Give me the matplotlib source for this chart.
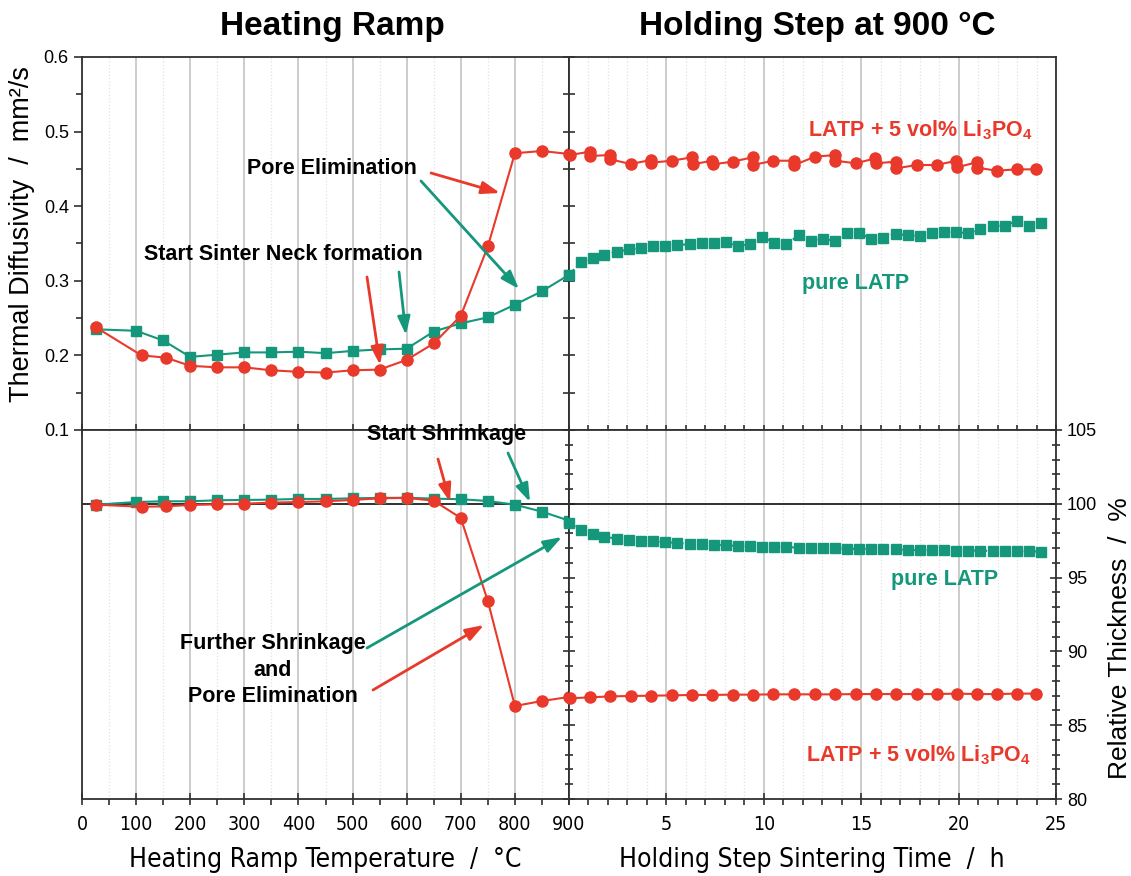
import numpy as np
import matplotlib.pyplot as plt
from matplotlib import font_manager as fm
from matplotlib.ticker import MultipleLocator, FixedLocator

plt.rcParams['font.family'] = ['Liberation Sans', 'DejaVu Sans']
plt.rcParams['mathtext.fontset'] = 'custom'
plt.rcParams['mathtext.rm'] = 'Liberation Sans:bold'
plt.rcParams['mathtext.it'] = 'Liberation Sans:bold'
plt.rcParams['mathtext.bf'] = 'Liberation Sans:bold'

RED = '#e8392b'
GREEN = '#14977a'

# narrow font for the x axis texts, if one is there
_names = {f.name for f in fm.fontManager.ttflist}
_cond = [f for f in fm.fontManager.ttflist if f.name == 'DejaVu Sans' and 'condensed' in str(f.stretch)]
if 'Liberation Sans Narrow' in _names:
    NARROW = dict(family='Liberation Sans Narrow')
    tick_fs, xlab_fs = 15, 21
elif _cond:
    NARROW = dict(family='DejaVu Sans', stretch='condensed')
    tick_fs, xlab_fs = 14, 19
else:
    NARROW = dict(family='Liberation Sans')
    tick_fs, xlab_fs = 13.5, 19

# heating ramp (deg C)
temp_red = [25, 110, 155, 200, 250, 300, 350, 400, 450, 500, 550, 600, 650, 700, 750, 800, 850, 900]
diff_red = [0.238, 0.200, 0.197, 0.186, 0.184, 0.184, 0.180, 0.178, 0.177, 0.180, 0.181, 0.194,
            0.216, 0.253, 0.346, 0.471, 0.474, 0.470]
thick_red = [99.94, 99.80, 99.83, 99.92, 99.96, 100.01, 100.08, 100.12, 100.17, 100.26, 100.37,
             100.40, 100.21, 99.04, 93.41, 86.30, 86.64, 86.91]

temp_green = [25, 100, 150, 200, 250, 300, 350, 400, 450, 500, 550, 600, 650, 700, 750, 800, 850, 900]
diff_green = [0.235, 0.233, 0.220, 0.198, 0.201, 0.204, 0.204, 0.205, 0.203, 0.206, 0.208, 0.209,
              0.232, 0.243, 0.251, 0.268, 0.286, 0.308]
thick_green = [99.94, 100.12, 100.17, 100.17, 100.24, 100.26, 100.28, 100.33, 100.33, 100.37, 100.40,
               100.41, 100.35, 100.31, 100.19, 99.94, 99.47, 98.86]

# holding step at 900 C (h)
hold_t_red_d = [0.05, 1.07, 1.09, 2.09, 2.11, 3.17, 4.20, 4.22, 5.27, 6.32, 6.34, 7.35, 7.37, 8.40,
                9.42, 9.44, 10.49, 11.54, 11.56, 12.63, 13.65, 13.67, 14.72, 15.73, 15.75, 16.78,
                16.80, 17.85, 18.87, 19.89, 19.91, 20.92, 20.94, 21.95, 22.98, 23.97]
hold_diff_red = [0.4686, 0.4731, 0.4673, 0.4686, 0.4628, 0.4566, 0.4619, 0.4583, 0.4610, 0.4655,
                 0.4561, 0.4610, 0.4561, 0.4597, 0.4655, 0.4552, 0.4610, 0.4610, 0.4552, 0.4664,
                 0.4686, 0.4610, 0.4575, 0.4642, 0.4575, 0.4597, 0.4508, 0.4552, 0.4552, 0.4610,
                 0.4521, 0.4588, 0.4517, 0.4476, 0.4494, 0.4494]

hold_t_red = [0.05, 1.08, 2.10, 3.17, 4.21, 5.27, 6.33, 7.36, 8.40, 9.43, 10.49, 11.55, 12.63,
              13.66, 14.72, 15.74, 16.79, 17.85, 18.87, 19.90, 20.93, 21.95, 22.98, 23.97]
hold_thick_red = [86.82, 86.89, 86.95, 86.98, 87.00, 87.02, 87.05, 87.05, 87.07, 87.07, 87.09,
                  87.09, 87.09, 87.09, 87.11, 87.11, 87.11, 87.11, 87.11, 87.14, 87.11, 87.11,
                  87.14, 87.14]

hold_t_green = [0.0, 0.60, 1.21, 1.81, 2.45, 3.08, 3.70, 4.33, 4.94, 5.56, 6.19, 6.83, 7.44, 8.04,
                8.69, 9.31, 9.92, 10.54, 11.16, 11.79, 12.41, 13.02, 13.64, 14.29, 14.90, 15.52,
                16.14, 16.77, 17.39, 18.00, 18.63, 19.27, 19.87, 20.48, 21.12, 21.75, 22.37,
                22.98, 23.60, 24.23]
hold_diff_green = [0.308, 0.325, 0.331, 0.335, 0.339, 0.342, 0.344, 0.346, 0.347, 0.348, 0.349,
                   0.351, 0.350, 0.352, 0.347, 0.349, 0.359, 0.351, 0.349, 0.361, 0.353, 0.356,
                   0.354, 0.364, 0.364, 0.356, 0.358, 0.363, 0.361, 0.360, 0.364, 0.366, 0.365,
                   0.364, 0.369, 0.373, 0.374, 0.380, 0.374, 0.378]
hold_thick_green = [98.72, 98.22, 97.95, 97.77, 97.64, 97.57, 97.48, 97.46, 97.41, 97.34, 97.30,
                    97.25, 97.23, 97.19, 97.14, 97.12, 97.09, 97.09, 97.07, 97.03, 97.03, 97.00,
                    96.98, 96.96, 96.94, 96.94, 96.92, 96.92, 96.87, 96.87, 96.85, 96.85, 96.83,
                    96.83, 96.83, 96.80, 96.80, 96.78, 96.78, 96.76]

W, H = 1131, 876
fig = plt.figure(figsize=(W / 100, H / 100), dpi=100)

x0, xm, x1 = 82, 569, 1056
y0, ym, y1 = 57, 430, 799


def rect(l, t, r, b):
    return [l / W, 1 - b / H, (r - l) / W, (b - t) / H]


ax_tl = fig.add_axes(rect(x0, y0, xm, ym))
ax_tr = fig.add_axes(rect(xm, y0, x1, ym))
ax_bl = fig.add_axes(rect(x0, ym, xm, y1))
ax_br = fig.add_axes(rect(xm, ym, x1, y1))

for ax in (ax_tl, ax_tr, ax_bl, ax_br):
    for s in ax.spines.values():
        s.set_color('#303030')
        s.set_linewidth(1.3)
    ax.set_axisbelow(True)
    ax.grid(True, axis='x', which='major', color='#c4c4c4', lw=1.2)
    ax.grid(True, axis='x', which='minor', color='#e2e2e2', lw=0.9, ls=':')
    ax.tick_params(which='both', color='#303030', width=1.2)

for ax in (ax_tl, ax_bl):
    ax.set_xlim(0, 900)
    ax.xaxis.set_major_locator(MultipleLocator(100))
    ax.xaxis.set_minor_locator(MultipleLocator(50))
for ax in (ax_tr, ax_br):
    ax.set_xlim(0, 25)
    ax.xaxis.set_major_locator(MultipleLocator(5))
    ax.xaxis.set_minor_locator(MultipleLocator(1))
for ax in (ax_tl, ax_tr):
    ax.set_ylim(0.1, 0.6)
    ax.yaxis.set_major_locator(MultipleLocator(0.1))
    ax.yaxis.set_minor_locator(MultipleLocator(0.05))
for ax in (ax_bl, ax_br):
    ax.set_ylim(80, 105)
    ax.yaxis.set_major_locator(MultipleLocator(5))
    ax.yaxis.set_minor_locator(MultipleLocator(1))
    ax.axhline(100, color='#202020', lw=1.3, zorder=1)

# tick setup
ax_tl.tick_params(axis='y', which='major', direction='out', length=6, labelsize=13, left=True, right=False)
ax_tl.tick_params(axis='y', which='minor', direction='out', length=4, left=True, right=False)
ax_tl.tick_params(axis='x', which='major', direction='inout', length=9, labelbottom=False, top=False)
ax_tl.tick_params(axis='x', which='minor', direction='out', length=4, top=False)

ax_tr.tick_params(axis='y', which='both', direction='inout', length=8, labelleft=False, right=False)
ax_tr.tick_params(axis='x', which='both', direction='inout', length=7, labelbottom=False, top=False)

ax_bl.tick_params(axis='y', which='both', left=False, right=False, labelleft=False)
ax_bl.tick_params(axis='x', which='major', direction='inout', length=9, top=False,
                  labelsize=tick_fs, pad=7)
ax_bl.tick_params(axis='x', which='minor', direction='out', length=4, top=False)

ax_br.tick_params(axis='y', which='major', direction='inout', length=9, left=True, right=True,
                  labelleft=False, labelright=True, labelsize=13)
ax_br.tick_params(axis='y', which='minor', direction='inout', length=6, left=True, right=True)
ax_br.tick_params(axis='x', which='major', direction='inout', length=9, top=False,
                  labelsize=tick_fs, pad=7)
ax_br.tick_params(axis='x', which='minor', direction='out', length=4, top=False)
ax_br.xaxis.set_major_locator(FixedLocator([5, 10, 15, 20, 25]))

for lab in ax_bl.get_xticklabels() + ax_br.get_xticklabels():
    lab.set_family(NARROW['family'])
    if 'stretch' in NARROW:
        lab.set_stretch(NARROW['stretch'])

# data
kw_r = dict(color=RED, marker='o', ms=8, lw=1.5, clip_on=False, zorder=4)
kw_g = dict(color=GREEN, marker='s', ms=6.5, lw=1.5, clip_on=False, zorder=3)

ax_tl.plot(temp_red, diff_red, **kw_r)
ax_tl.plot(temp_green, diff_green, **kw_g)
ax_bl.plot(temp_red, thick_red, **kw_r)
ax_bl.plot(temp_green, thick_green, **kw_g)

ax_tr.plot(hold_t_red_d, hold_diff_red, **kw_r)
ax_tr.plot(hold_t_green, hold_diff_green, ls=':', **kw_g)
ax_br.plot(hold_t_red, hold_thick_red, **kw_r)
ax_br.plot(hold_t_green, hold_thick_green, ls=':', **kw_g)


def ftext(x, y, s, **kw):
    fig.text(x / W, 1 - y / H, s, ha='center', va='center', **kw)


def arrow(x_a, y_a, x_b, y_b, c):
    # drawn from the last axes so that it lies over every panel
    ax_br.annotate('', xy=(x_b, H - y_b), xytext=(x_a, H - y_a),
                   xycoords='figure pixels', textcoords='figure pixels', annotation_clip=False,
                   arrowprops=dict(arrowstyle='-|>,head_length=1.1,head_width=0.38', color=c,
                                   lw=2, shrinkA=0, shrinkB=0, mutation_scale=10), zorder=10)


ftext(332, 27, 'Heating Ramp', fontsize=24, fontweight='bold')
ftext(817, 27, 'Holding Step at 900 °C', fontsize=24, fontweight='bold')
ftext(22, 234, 'Thermal Diffusivity  /  mm²/s', fontsize=19.5, rotation=90)
ftext(1120, 638, 'Relative Thickness  /  %', fontsize=19, rotation=90)
ftext(325, 860, 'Heating Ramp Temperature  /  °C', fontsize=xlab_fs, **NARROW)
ftext(812, 860, 'Holding Step Sintering Time  /  h', fontsize=xlab_fs, **NARROW)

ab = dict(fontsize=15.5, fontweight='bold')
ftext(332, 168, 'Pore Elimination', **ab)
ftext(283, 255, 'Start Sinter Neck formation', **ab)
ftext(447, 434, 'Start Shrinkage', **ab)
ftext(273, 670, 'Further Shrinkage\nand\nPore Elimination', linespacing=1.35, **ab)
ftext(920, 130, 'LATP + 5 vol% Li$_3$PO$_4$', color=RED, **ab)
ftext(918, 755, 'LATP + 5 vol% Li$_3$PO$_4$', color=RED, **ab)
ftext(856, 283, 'pure LATP', color=GREEN, **ab)
ftext(945, 580, 'pure LATP', color=GREEN, **ab)

arrow(431, 173, 500, 193, RED)
arrow(421, 181, 519, 289, GREEN)
arrow(367, 277, 380, 365, RED)
arrow(399, 272, 406, 335, GREEN)
arrow(438, 459, 450, 502, RED)
arrow(508, 453, 530, 502, GREEN)
arrow(367, 648, 562, 537, GREEN)
arrow(373, 690, 484, 625, RED)

fig.savefig('out.png', dpi=100)
